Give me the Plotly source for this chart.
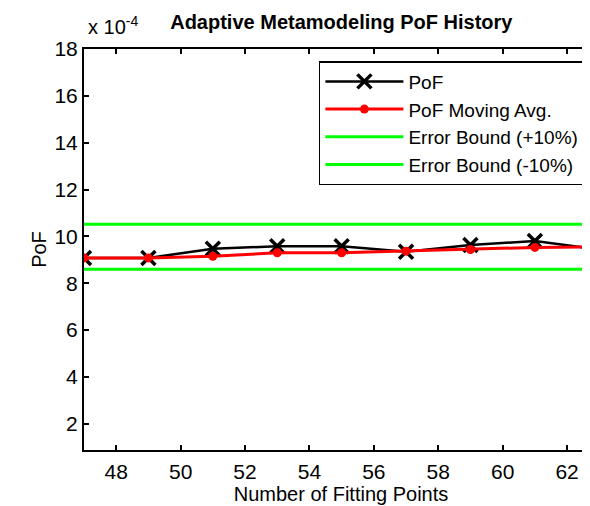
import plotly.graph_objects as go

fitting_points = [47, 49, 51, 53, 55, 57, 59, 61, 63]
pof = [9.08, 9.08, 9.47, 9.58, 9.58, 9.34, 9.63, 9.8, 9.44]
pof_moving_avg = [9.08, 9.08, 9.15, 9.3, 9.3, 9.37, 9.44, 9.53, 9.56]
bound_upper = 10.52
bound_lower = 8.6
x_bounds = [47, 63]
y_ticks = [2, 4, 6, 8, 10, 12, 14, 16, 18]
x_ticks = [48, 50, 52, 54, 56, 58, 60, 62]

FONT = "Liberation Sans, Arial, sans-serif"

fig = go.Figure()
fig.add_trace(go.Scatter(
    x=fitting_points, y=pof, name="PoF", mode="lines+markers",
    line=dict(color="black", width=2.5),
    marker=dict(symbol="x-thin", size=14, line=dict(color="black", width=3.5)),
    legendgroup="a"))
fig.add_trace(go.Scatter(
    x=fitting_points, y=pof_moving_avg, name="PoF Moving Avg.", mode="lines+markers",
    line=dict(color="#ff0000", width=3),
    marker=dict(symbol="circle", size=9, color="#ff0000"),
    legendgroup="b"))
fig.add_trace(go.Scatter(
    x=x_bounds, y=[bound_upper, bound_upper], name="Error Bound (+10%)", mode="lines",
    line=dict(color="#00ff00", width=3), legendgroup="c"))
fig.add_trace(go.Scatter(
    x=x_bounds, y=[bound_lower, bound_lower], name="Error Bound (-10%)", mode="lines",
    line=dict(color="#00ff00", width=3), legendgroup="d"))
# invisible trace for right-side ticks
fig.add_trace(go.Scatter(x=[], y=[], yaxis="y2", showlegend=False))

fig.update_layout(
    width=590, height=506,
    margin=dict(l=76, r=0, t=41, b=64, autoexpand=False),
    paper_bgcolor="white", plot_bgcolor="white",
    font=dict(family=FONT, size=21, color="black"),
    title=dict(text="<b>Adaptive Metamodeling PoF History</b>", x=0.565, xanchor="center",
               y=0.972, yanchor="middle", font=dict(family=FONT, size=20, color="black")),
    xaxis=dict(range=[47, 62.96], tickvals=x_ticks, ticks="inside", ticklen=5, tickwidth=1.5,
               tickcolor="black", showline=True, linecolor="black", linewidth=2, mirror="ticks",
               showgrid=False, zeroline=False, ticklabelstandoff=2, automargin=False,
               title=dict(text="Number of Fitting Points", font=dict(size=20), standoff=0)),
    yaxis=dict(range=[0.88, 18], tickvals=y_ticks, ticks="inside", ticklen=5, tickwidth=1.5,
               tickcolor="black", showline=True, linecolor="black", linewidth=2, mirror=False,
               showgrid=False, zeroline=False, automargin=False,
               title=dict(text="PoF", font=dict(size=20), standoff=2)),
    yaxis2=dict(range=[0.88, 18], overlaying="y", side="right", tickvals=y_ticks,
                ticks="inside", ticklen=5, tickwidth=1.5, tickcolor="black", automargin=False,
                showticklabels=False, showline=False, showgrid=False, zeroline=False),
    legend=dict(x=0.457, y=0.970, xanchor="left", yanchor="top",
                bordercolor="black", borderwidth=1.5, bgcolor="white",
                font=dict(family=FONT, size=19, color="black"),
                tracegroupgap=0, itemwidth=78),
    showlegend=True,
)
fig.add_annotation(text="x 10<sup>-4</sup>", xref="paper", yref="paper", x=0.0, y=1.0,
                   xanchor="left", yanchor="bottom", yshift=9, xshift=2, showarrow=False,
                   font=dict(family=FONT, size=20, color="black"))

fig.write_html("out.html")
